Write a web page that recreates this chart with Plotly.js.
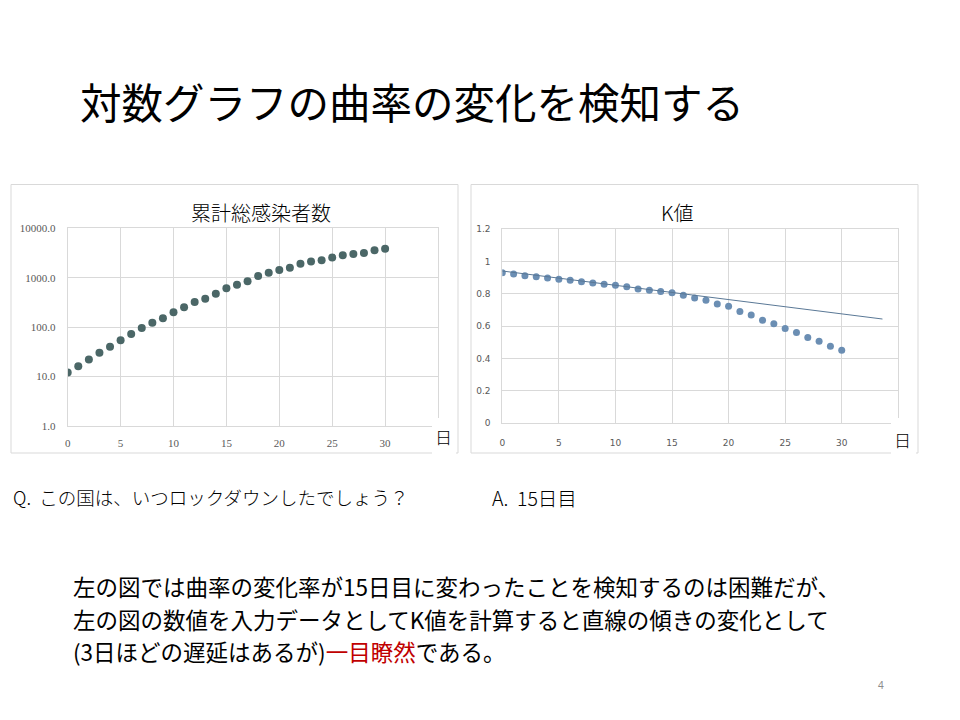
<!DOCTYPE html>
<html>
<head>
<meta charset="utf-8">
<script src="https://cdn.plot.ly/plotly-3.0.1.min.js"></script>
<style>html,body{margin:0;padding:0;background:#fff;}#chart{width:960px;height:720px;}</style>
</head>
<body>
<div id="chart"></div>
<script>
// ---- data ----
const days = [0,1,2,3,4,5,6,7,8,9,10,11,12,13,14,15,16,17,18,19,20,21,22,23,24,25,26,27,28,29,30];
const cumulativeCases = [12,16,22,30,40,54,72,95,122,150,198,250,321,375,474,608,722,843,1080,1260,1430,1585,1905,2120,2256,2550,2840,3020,3160,3575,3860];
const kValues = [0.932,0.924,0.913,0.907,0.899,0.891,0.885,0.876,0.868,0.860,0.854,0.845,0.831,0.823,0.816,0.808,0.792,0.775,0.761,0.738,0.724,0.691,0.670,0.637,0.616,0.586,0.561,0.530,0.507,0.476,0.452];
const trendX = [0, 33.6];
const trendY = [0.942, 0.645];
const logTickVals = [1,10,100,1000,10000];
const logTickText = ['1.0','10.0','100.0','1000.0','10000.0'];
const dayTicks = [0,5,10,15,20,25,30];

const slideTitle = '対数グラフの曲率の変化を検知する';
const leftTitle = '累計総感染者数';
const rightTitle = 'K値';
const dayLabel = '日';
const question = 'Q.&#160;&#160;この国は、いつロックダウンしたでしょう？';
const answer = 'A.&#160;&#160;15日目';
const bodyLines = [
  '左の図では曲率の変化率が15日目に変わったことを検知するのは困難だが、',
  '左の図の数値を入力データとしてK値を計算すると直線の傾きの変化として',
  '(3日ほどの遅延はあるが)<span style="color:#c00000">一目瞭然</span>である。'
];
const pageNumber = '4';

// ---- helpers ----
const W = 960, H = 720;
const px = x => x / W;
const py = y => 1 - y / H;
const JP = '"Noto Sans CJK JP", "Noto Sans", sans-serif';
const grid = '#d9d9d9';

const traces = [
  {x: days, y: cumulativeCases, type: 'scatter', mode: 'markers', xaxis: 'x', yaxis: 'y',
   marker: {color: '#4b6767', size: 8}},
  {x: days, y: kValues, type: 'scatter', mode: 'markers', xaxis: 'x2', yaxis: 'y2',
   marker: {color: '#6b8eb3', size: 7}},
  {x: trendX, y: trendY, type: 'scatter', mode: 'lines', xaxis: 'x2', yaxis: 'y2',
   line: {color: '#5a7896', width: 1}}
];

const bodyY = [586, 618.5, 651];
const bodyAnn = bodyLines.map((t, i) => ({
  text: t, xref: 'paper', yref: 'paper', x: px(71), y: py(bodyY[i]), xanchor: 'left', yanchor: 'middle',
  align: 'left', showarrow: false, font: {family: JP, size: 22.5, color: '#000'}
}));

const layout = {
  width: W, height: H,
  margin: {l: 0, r: 0, t: 0, b: 0},
  paper_bgcolor: '#fff', plot_bgcolor: '#fff',
  showlegend: false,
  xaxis: {
    domain: [px(67.7), px(438)], range: [0, 35], anchor: 'y',
    tickvals: dayTicks, ticktext: dayTicks.map(String),
    showgrid: true, gridcolor: grid, gridwidth: 1, zeroline: false,
    showline: true, linecolor: grid, mirror: true,
    ticks: 'outside', ticklen: 7, tickcolor: 'rgba(0,0,0,0)',
    tickfont: {family: '"Liberation Serif", serif', size: 11, color: '#595959'}
  },
  yaxis: {
    domain: [py(425.7), py(228.3)], type: 'log', range: [0, 4], anchor: 'x',
    tickvals: logTickVals, ticktext: logTickText,
    showgrid: true, gridcolor: grid, gridwidth: 1, zeroline: false,
    showline: true, linecolor: grid, mirror: true,
    ticks: 'outside', ticklen: 9, tickcolor: 'rgba(0,0,0,0)',
    tickfont: {family: '"Liberation Serif", serif', size: 11, color: '#595959'}
  },
  xaxis2: {
    domain: [px(502.3), px(898.3)], range: [0, 35], anchor: 'y2',
    tickvals: dayTicks, ticktext: dayTicks.map(String),
    showgrid: true, gridcolor: grid, gridwidth: 1, zeroline: false,
    showline: true, linecolor: grid, mirror: true,
    ticks: 'outside', ticklen: 11, tickcolor: 'rgba(0,0,0,0)',
    tickfont: {family: '"DejaVu Sans", sans-serif', size: 9, color: '#595959'}
  },
  yaxis2: {
    domain: [py(423.3), py(229.3)], range: [0, 1.2], anchor: 'x2',
    dtick: 0.2, tick0: 0,
    showgrid: true, gridcolor: grid, gridwidth: 1, zeroline: false,
    showline: true, linecolor: grid, mirror: true,
    ticks: 'outside', ticklen: 9, tickcolor: 'rgba(0,0,0,0)',
    tickfont: {family: '"DejaVu Sans", sans-serif', size: 9, color: '#595959'}
  },
  shapes: [
    {type: 'rect', xref: 'paper', yref: 'paper', x0: px(11), x1: px(458), y0: py(453), y1: py(184.5),
     line: {color: grid, width: 1}, fillcolor: 'rgba(0,0,0,0)', layer: 'below'},
    {type: 'rect', xref: 'paper', yref: 'paper', x0: px(471), x1: px(918), y0: py(453), y1: py(184.5),
     line: {color: grid, width: 1}, fillcolor: 'rgba(0,0,0,0)', layer: 'below'},
    {type: 'rect', xref: 'paper', yref: 'paper', x0: px(432), x1: px(456), y0: py(456), y1: py(418),
     line: {width: 0}, fillcolor: '#fff', layer: 'above'},
    {type: 'rect', xref: 'paper', yref: 'paper', x0: px(891), x1: px(916), y0: py(458), y1: py(418),
     line: {width: 0}, fillcolor: '#fff', layer: 'above'}
  ],
  annotations: [
    {text: slideTitle, xref: 'paper', yref: 'paper', x: px(78), y: py(101), xanchor: 'left', yanchor: 'middle',
     showarrow: false, font: {family: JP, size: 41.5, color: '#000'}},
    {text: leftTitle, xref: 'paper', yref: 'paper', x: px(261), y: py(212), xanchor: 'center', yanchor: 'middle',
     showarrow: false, font: {family: JP, size: 20, color: '#000', weight: 300}},
    {text: rightTitle, xref: 'paper', yref: 'paper', x: px(677), y: py(212), xanchor: 'center', yanchor: 'middle',
     showarrow: false, font: {family: JP, size: 20, color: '#000', weight: 300}},
    {text: dayLabel, xref: 'paper', yref: 'paper', x: px(443), y: py(437), xanchor: 'center', yanchor: 'middle',
     showarrow: false, font: {family: JP, size: 17, color: '#000', weight: 300}},
    {text: dayLabel, xref: 'paper', yref: 'paper', x: px(902), y: py(439), xanchor: 'center', yanchor: 'middle',
     showarrow: false, font: {family: JP, size: 17, color: '#000', weight: 300}},
    {text: question, xref: 'paper', yref: 'paper', x: px(11), y: py(497), xanchor: 'left', yanchor: 'middle',
     showarrow: false, font: {family: JP, size: 18.5, color: '#000', weight: 300}},
    {text: answer, xref: 'paper', yref: 'paper', x: px(490), y: py(497), xanchor: 'left', yanchor: 'middle',
     showarrow: false, font: {family: JP, size: 19.5, color: '#000', weight: 300}},
    ...bodyAnn,
    {text: pageNumber, xref: 'paper', yref: 'paper', x: px(881), y: py(685), xanchor: 'center', yanchor: 'middle',
     showarrow: false, font: {family: '"Noto Sans", sans-serif', size: 10, color: '#8c8c8c'}}
  ]
};

Plotly.newPlot('chart', traces, layout, {displayModeBar: false, staticPlot: true});
</script>
</body>
</html>
